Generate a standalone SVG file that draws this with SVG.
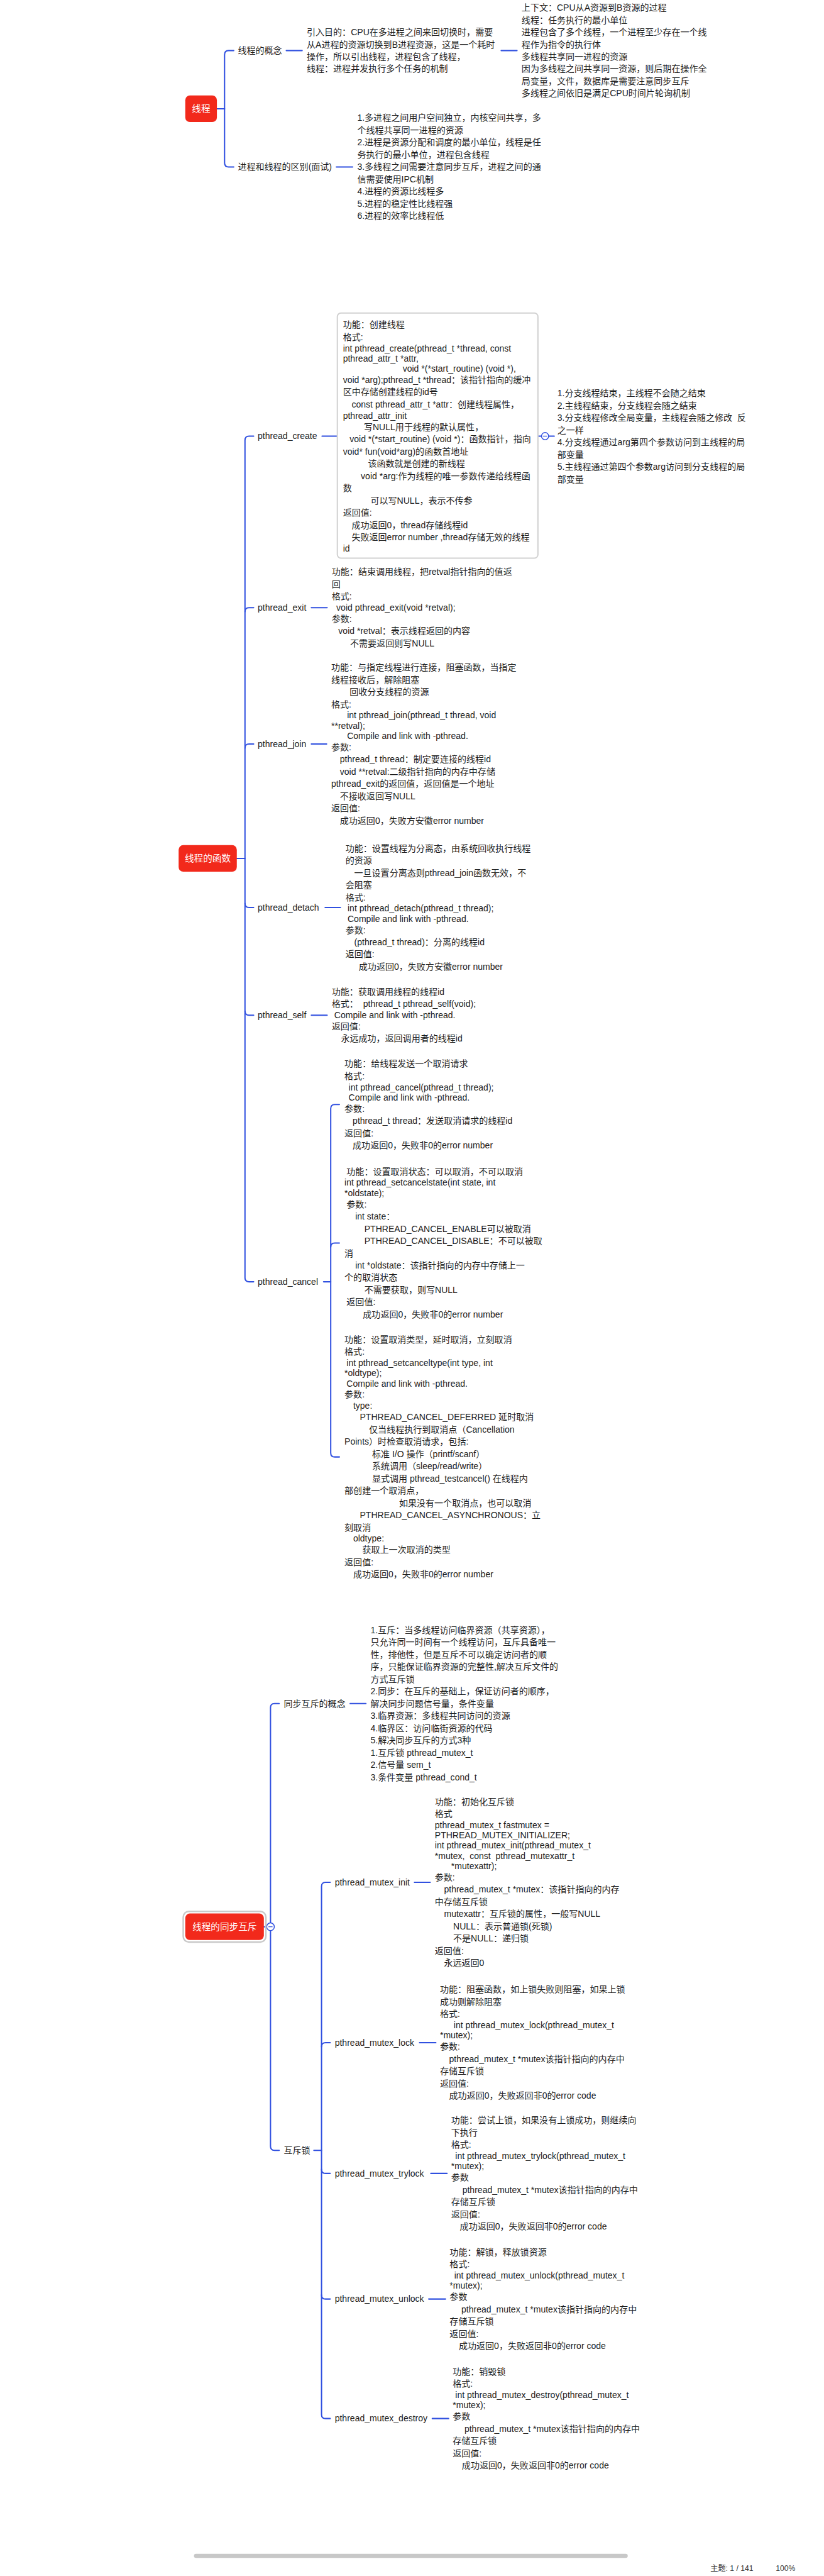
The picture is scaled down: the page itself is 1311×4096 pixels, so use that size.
<svg xmlns="http://www.w3.org/2000/svg" width="1311" height="4096" viewBox="0 0 1311 4096">
<style>
.t{font-family:"Liberation Sans","Noto Sans CJK SC",sans-serif;font-size:17.3px;fill:#1c1c1c}
.l{font-family:"Liberation Sans","Noto Sans CJK SC",sans-serif;font-size:17.3px;fill:#1c1c1c}
.n{font-family:"Liberation Sans","Noto Sans CJK SC",sans-serif;font-size:18px;fill:#ffffff;text-anchor:middle;dominant-baseline:central}
.red{fill:#f2291b}
.c{fill:none;stroke:#3050e0;stroke-width:2.5;stroke-linecap:round}
.box{fill:#ffffff;stroke:#d2d2d2;stroke-width:2.5}
.ui{font-family:"Liberation Sans","Noto Sans CJK SC",sans-serif;font-size:15px;fill:#333}
</style>
<rect width="1311" height="4096" fill="#ffffff"/>
<g transform="scale(0.812)">
<g id="connectors">
<path class="c" d="M425,213 H440"/>
<path class="c" d="M458,99 H448 Q440,99 440,107 V319 Q440,327 448,327 H458"/>
<path class="c" d="M561,99 H592"/>
<path class="c" d="M982,99 H1013"/>
<path class="c" d="M659,327 H691"/>
<path class="c" d="M464,1681 H480"/>
<path class="c" d="M497,854 H488 Q480,854 480,862 V2502 Q480,2510 488,2510 H497"/>
<path class="c" d="M480,1198 Q480,1190 488,1190 H497"/>
<path class="c" d="M480,1465 Q480,1457 488,1457 H497"/>
<path class="c" d="M480,1769 Q480,1777 488,1777 H497"/>
<path class="c" d="M480,1980 Q480,1988 488,1988 H497"/>
<path class="c" d="M631,854 H661"/>
<path class="c" d="M1054,854 H1061 M1075,854 H1086"/>
<path class="c" d="M610,1190 H641"/>
<path class="c" d="M610,1457 H640"/>
<path class="c" d="M637,1777 H667"/>
<path class="c" d="M610,1988 H641"/>
<path class="c" d="M634,2510 H648"/>
<path class="c" d="M665,2163 H656 Q648,2163 648,2171 V2845 Q648,2853 656,2853 H665"/>
<path class="c" d="M648,2442 Q648,2434 656,2434 H665"/>
<path class="c" d="M517,3773 H530"/>
<path class="c" d="M547,3336 H538 Q530,3336 530,3344 V4203 Q530,4211 538,4211 H547"/>
<path class="c" d="M686,3336 H717"/>
<path class="c" d="M615,4211 H630"/>
<path class="c" d="M647,3686 H638 Q630,3686 630,3694 V4728 Q630,4736 638,4736 H647"/>
<path class="c" d="M630,4008 Q630,4000 638,4000 H647"/>
<path class="c" d="M630,4248 Q630,4256 638,4256 H647"/>
<path class="c" d="M630,4494 Q630,4502 638,4502 H647"/>
<path class="c" d="M812,3686 H843"/>
<path class="c" d="M822,4000 H854"/>
<path class="c" d="M844,4256 H876"/>
<path class="c" d="M840,4502 H873"/>
<path class="c" d="M847,4736 H879"/>
<circle cx="1068" cy="854" r="7" fill="#fff" stroke="#3050e0" stroke-width="1.8"/>
<path d="M1064,854 H1072" stroke="#3050e0" stroke-width="1.5"/>
<circle cx="530" cy="3773" r="7.5" fill="#fff" stroke="#3050e0" stroke-width="1.8"/>
<path d="M526,3773 H534" stroke="#3050e0" stroke-width="1.5"/>
</g>

<g id="node-thread">
<rect class="red" x="363" y="187" width="62" height="52" rx="9"/>
<text class="n" x="394" y="213">线程</text>
</g>
<g id="node-concept"><text class="l" x="466" y="105">线程的概念</text></g>
<g id="node-concept-text">
<text class="t"><tspan x="601" y="69">引入目的：CPU在多进程之间来回切换时，需要</tspan><tspan x="601" dy="24">从A进程的资源切换到B进程资源，这是一个耗时</tspan><tspan x="601" dy="24">操作，所以引出线程，进程包含了线程，</tspan><tspan x="601" dy="24">线程：进程并发执行多个任务的机制</tspan></text>
</g>
<g id="node-concept-detail">
<text class="t"><tspan x="1022" y="21">上下文：CPU从A资源到B资源的过程</tspan><tspan x="1022" dy="24">线程：任务执行的最小单位</tspan><tspan x="1022" dy="24">进程包含了多个线程，一个进程至少存在一个线</tspan><tspan x="1022" dy="24">程作为指令的执行体</tspan><tspan x="1022" dy="24">多线程共享同一进程的资源</tspan><tspan x="1022" dy="24">因为多线程之间共享同一资源，则后期在操作全</tspan><tspan x="1022" dy="24">局变量，文件，数据库是需要注意同步互斥</tspan><tspan x="1022" dy="24">多线程之间依旧是满足CPU时间片轮询机制</tspan></text>
</g>
<g id="node-diff"><text class="l" x="466" y="333">进程和线程的区别(面试)</text></g>
<g id="node-diff-text">
<text class="t"><tspan x="700" y="237">1.多进程之间用户空间独立，内核空间共享，多</tspan><tspan x="700" dy="24">个线程共享同一进程的资源</tspan><tspan x="700" dy="24">2.进程是资源分配和调度的最小单位，线程是任</tspan><tspan x="700" dy="24">务执行的最小单位，进程包含线程</tspan><tspan x="700" dy="24">3.多线程之间需要注意同步互斥，进程之间的通</tspan><tspan x="700" dy="24">信需要使用IPC机制</tspan><tspan x="700" dy="24">4.进程的资源比线程多</tspan><tspan x="700" dy="24">5.进程的稳定性比线程强</tspan><tspan x="700" dy="24">6.进程的效率比线程低</tspan></text>
</g>

<g id="node-functions">
<rect class="red" x="350" y="1655" width="114" height="52" rx="9"/>
<text class="n" x="407" y="1681">线程的函数</text>
</g>
<g id="node-create"><text class="l" x="505" y="860">pthread_create</text></g>
<g id="node-create-text">
<rect class="box" x="661" y="613" width="393" height="480" rx="7"/>
<text class="t"><tspan x="672" y="642">功能：创建线程</tspan><tspan x="672" dy="24">格式:</tspan><tspan x="672" dy="22">int pthread_create(pthread_t *thread, const</tspan><tspan x="672" dy="20">pthread_attr_t *attr,</tspan><tspan x="789" dy="20">void *(*start_routine) (void *),</tspan><tspan x="672" dy="22">void *arg);pthread_t *thread：该指针指向的缓冲</tspan><tspan x="672" dy="24">区中存储创建线程的id号</tspan><tspan x="689" dy="24">const pthread_attr_t *attr：创建线程属性，</tspan><tspan x="672" dy="22">pthread_attr_init</tspan><tspan x="713" dy="22">写NULL用于线程的默认属性，</tspan><tspan x="685" dy="24">void *(*start_routine) (void *)：函数指针，指向</tspan><tspan x="672" dy="24">void* fun(void*arg)的函数首地址</tspan><tspan x="721" dy="24">该函数就是创建的新线程</tspan><tspan x="707" dy="24">void *arg:作为线程的唯一参数传递给线程函</tspan><tspan x="672" dy="24">数</tspan><tspan x="726" dy="24">可以写NULL，表示不传参</tspan><tspan x="672" dy="24">返回值:</tspan><tspan x="689" dy="24">成功返回0，thread存储线程id</tspan><tspan x="689" dy="24">失败返回error number ,thread存储无效的线程</tspan><tspan x="672" dy="22">id</tspan></text>
</g>
<g id="node-create-notes">
<text class="t"><tspan x="1092" y="776">1.分支线程结束，主线程不会随之结束</tspan><tspan x="1092" dy="24">2.主线程结束，分支线程会随之结束</tspan><tspan x="1092" dy="24">3.分支线程修改全局变量，主线程会随之修改&#160;&#160;反</tspan><tspan x="1092" dy="24">之一样</tspan><tspan x="1092" dy="24">4.分支线程通过arg第四个参数访问到主线程的局</tspan><tspan x="1092" dy="24">部变量</tspan><tspan x="1092" dy="24">5.主线程通过第四个参数arg访问到分支线程的局</tspan><tspan x="1092" dy="24">部变量</tspan></text>
</g>
<g id="node-exit"><text class="l" x="505" y="1196">pthread_exit</text></g>
<g id="node-exit-text">
<text class="t"><tspan x="650" y="1126">功能：结束调用线程，把retval指针指向的值返</tspan><tspan x="650" dy="24">回</tspan><tspan x="650" dy="24">格式:</tspan><tspan x="659" dy="22">void pthread_exit(void *retval);</tspan><tspan x="650" dy="22">参数:</tspan><tspan x="663" dy="24">void *retval：表示线程返回的内容</tspan><tspan x="686" dy="24">不需要返回则写NULL</tspan></text>
</g>
<g id="node-join"><text class="l" x="505" y="1463">pthread_join</text></g>
<g id="node-join-text">
<text class="t"><tspan x="649" y="1313">功能：与指定线程进行连接，阻塞函数，当指定</tspan><tspan x="649" dy="24">线程接收后，解除阻塞</tspan><tspan x="685" dy="24">回收分支线程的资源</tspan><tspan x="649" dy="24">格式:</tspan><tspan x="680" dy="22">int pthread_join(pthread_t thread, void</tspan><tspan x="649" dy="20">**retval);</tspan><tspan x="680" dy="20">Compile and link with -pthread.</tspan><tspan x="649" dy="22">参数:</tspan><tspan x="666" dy="24">pthread_t thread：制定要连接的线程id</tspan><tspan x="666" dy="24">void **retval:二级指针指向的内存中存储</tspan><tspan x="649" dy="24">pthread_exit的返回值，返回值是一个地址</tspan><tspan x="666" dy="24">不接收返回写NULL</tspan><tspan x="649" dy="24">返回值:</tspan><tspan x="666" dy="24">成功返回0，失败方安徽error number</tspan></text>
</g>
<g id="node-detach"><text class="l" x="505" y="1783">pthread_detach</text></g>
<g id="node-detach-text">
<text class="t"><tspan x="677" y="1667">功能：设置线程为分离态，由系统回收执行线程</tspan><tspan x="677" dy="24">的资源</tspan><tspan x="694" dy="24">一旦设置分离态则pthread_join函数无效，不</tspan><tspan x="677" dy="24">会阻塞</tspan><tspan x="677" dy="24">格式:</tspan><tspan x="681" dy="22">int pthread_detach(pthread_t thread);</tspan><tspan x="681" dy="20">Compile and link with -pthread.</tspan><tspan x="677" dy="22">参数:</tspan><tspan x="694" dy="24">(pthread_t thread)：分离的线程id</tspan><tspan x="677" dy="24">返回值:</tspan><tspan x="703" dy="24">成功返回0，失败方安徽error number</tspan></text>
</g>
<g id="node-self"><text class="l" x="505" y="1994">pthread_self</text></g>
<g id="node-self-text">
<text class="t"><tspan x="650" y="1948">功能：获取调用线程的线程id</tspan><tspan x="650" dy="24">格式：&#160;&#160;pthread_t pthread_self(void);</tspan><tspan x="655" dy="22">Compile and link with -pthread.</tspan><tspan x="650" dy="22">返回值:</tspan><tspan x="668" dy="24">永远成功，返回调用者的线程id</tspan></text>
</g>
<g id="node-cancel"><text class="l" x="505" y="2516">pthread_cancel</text></g>
<g id="node-cancel-text1">
<text class="t"><tspan x="675" y="2089">功能：给线程发送一个取消请求</tspan><tspan x="675" dy="24">格式:</tspan><tspan x="683" dy="22">int pthread_cancel(pthread_t thread);</tspan><tspan x="683" dy="20">Compile and link with -pthread.</tspan><tspan x="675" dy="22">参数:</tspan><tspan x="691" dy="24">pthread_t thread：发送取消请求的线程id</tspan><tspan x="675" dy="24">返回值:</tspan><tspan x="691" dy="24">成功返回0，失败非0的error number</tspan></text>
</g>
<g id="node-cancel-text2">
<text class="t"><tspan x="679" y="2300">功能：设置取消状态：可以取消，不可以取消</tspan><tspan x="675" dy="22">int pthread_setcancelstate(int state, int</tspan><tspan x="675" dy="20">*oldstate);</tspan><tspan x="679" dy="22">参数:</tspan><tspan x="696" dy="24">int state：</tspan><tspan x="714" dy="24">PTHREAD_CANCEL_ENABLE可以被取消</tspan><tspan x="714" dy="24">PTHREAD_CANCEL_DISABLE：不可以被取</tspan><tspan x="675" dy="24">消</tspan><tspan x="696" dy="24">int *oldstate：该指针指向的内存中存储上一</tspan><tspan x="675" dy="24">个的取消状态</tspan><tspan x="714" dy="24">不需要获取，则写NULL</tspan><tspan x="679" dy="24">返回值:</tspan><tspan x="711" dy="24">成功返回0，失败非0的error number</tspan></text>
</g>
<g id="node-cancel-text3">
<text class="t"><tspan x="675" y="2629">功能：设置取消类型，延时取消，立刻取消</tspan><tspan x="675" dy="24">格式:</tspan><tspan x="679" dy="22">int pthread_setcanceltype(int type, int</tspan><tspan x="675" dy="20">*oldtype);</tspan><tspan x="679" dy="20">Compile and link with -pthread.</tspan><tspan x="675" dy="22">参数:</tspan><tspan x="692" dy="22">type:</tspan><tspan x="705" dy="22">PTHREAD_CANCEL_DEFERRED 延时取消</tspan><tspan x="723" dy="24">仅当线程执行到取消点（Cancellation</tspan><tspan x="675" dy="24">Points）时检查取消请求，包括:</tspan><tspan x="729" dy="24">标准 I/O 操作（printf/scanf）</tspan><tspan x="729" dy="24">系统调用（sleep/read/write）</tspan><tspan x="729" dy="24">显式调用 pthread_testcancel() 在线程内</tspan><tspan x="675" dy="24">部创建一个取消点，</tspan><tspan x="782" dy="24">如果没有一个取消点，也可以取消</tspan><tspan x="705" dy="24">PTHREAD_CANCEL_ASYNCHRONOUS：立</tspan><tspan x="675" dy="24">刻取消</tspan><tspan x="692" dy="22">oldtype:</tspan><tspan x="710" dy="22">获取上一次取消的类型</tspan><tspan x="675" dy="24">返回值:</tspan><tspan x="692" dy="24">成功返回0，失败非0的error number</tspan></text>
</g>

<g id="node-sync">
<rect x="359" y="3743" width="162" height="60" rx="11" fill="none" stroke="#c9c9c9" stroke-width="3"/>
<rect class="red" x="363" y="3747" width="154" height="52" rx="9"/>
<text class="n" x="440" y="3773">线程的同步互斥</text>
</g>
<g id="node-sync-concept"><text class="l" x="556" y="3342">同步互斥的概念</text></g>
<g id="node-sync-concept-text">
<text class="t"><tspan x="726" y="3198">1.互斥：当多线程访问临界资源（共享资源），</tspan><tspan x="726" dy="24">只允许同一时间有一个线程访问，互斥具备唯一</tspan><tspan x="726" dy="24">性，排他性，但是互斥不可以确定访问者的顺</tspan><tspan x="726" dy="24">序，只能保证临界资源的完整性,解决互斥文件的</tspan><tspan x="726" dy="24">方式互斥锁</tspan><tspan x="726" dy="24">2.同步：在互斥的基础上，保证访问者的顺序，</tspan><tspan x="726" dy="24">解决同步问题信号量，条件变量</tspan><tspan x="726" dy="24">3.临界资源：多线程共同访问的资源</tspan><tspan x="726" dy="24">4.临界区：访问临街资源的代码</tspan><tspan x="726" dy="24">5.解决同步互斥的方式3种</tspan><tspan x="726" dy="24">1.互斥锁 pthread_mutex_t</tspan><tspan x="726" dy="24">2.信号量 sem_t</tspan><tspan x="726" dy="24">3.条件变量 pthread_cond_t</tspan></text>
</g>
<g id="node-mutex"><text class="l" x="556" y="4217">互斥锁</text></g>
<g id="node-mutex-init"><text class="l" x="656" y="3692">pthread_mutex_init</text></g>
<g id="node-mutex-init-text">
<text class="t"><tspan x="852" y="3534">功能：初始化互斥锁</tspan><tspan x="852" dy="24">格式</tspan><tspan x="852" dy="22">pthread_mutex_t fastmutex =</tspan><tspan x="852" dy="20">PTHREAD_MUTEX_INITIALIZER;</tspan><tspan x="852" dy="20">int pthread_mutex_init(pthread_mutex_t</tspan><tspan x="852" dy="20">*mutex,&#160;&#160;const&#160;&#160;pthread_mutexattr_t</tspan><tspan x="884" dy="20">*mutexattr);</tspan><tspan x="852" dy="22">参数:</tspan><tspan x="870" dy="24">pthread_mutex_t *mutex：该指针指向的内存</tspan><tspan x="852" dy="24">中存储互斥锁</tspan><tspan x="870" dy="24">mutexattr：互斥锁的属性，一般写NULL</tspan><tspan x="888" dy="24">NULL：表示普通锁(死锁)</tspan><tspan x="888" dy="24">不是NULL：递归锁</tspan><tspan x="852" dy="24">返回值:</tspan><tspan x="870" dy="24">永远返回0</tspan></text>
</g>
<g id="node-mutex-lock"><text class="l" x="656" y="4006">pthread_mutex_lock</text></g>
<g id="node-mutex-lock-text">
<text class="t"><tspan x="862" y="3902">功能：阻塞函数，如上锁失败则阻塞，如果上锁</tspan><tspan x="862" dy="24">成功则解除阻塞</tspan><tspan x="862" dy="24">格式:</tspan><tspan x="889" dy="22">int pthread_mutex_lock(pthread_mutex_t</tspan><tspan x="862" dy="20">*mutex);</tspan><tspan x="862" dy="22">参数:</tspan><tspan x="880" dy="24">pthread_mutex_t *mutex该指针指向的内存中</tspan><tspan x="862" dy="24">存储互斥锁</tspan><tspan x="862" dy="24">返回值:</tspan><tspan x="880" dy="24">成功返回0，失败返回非0的error code</tspan></text>
</g>
<g id="node-mutex-trylock"><text class="l" x="656" y="4262">pthread_mutex_trylock</text></g>
<g id="node-mutex-trylock-text">
<text class="t"><tspan x="884" y="4158">功能：尝试上锁，如果没有上锁成功，则继续向</tspan><tspan x="884" dy="24">下执行</tspan><tspan x="884" dy="24">格式:</tspan><tspan x="892" dy="22">int pthread_mutex_trylock(pthread_mutex_t</tspan><tspan x="884" dy="20">*mutex);</tspan><tspan x="884" dy="22">参数</tspan><tspan x="906" dy="24">pthread_mutex_t *mutex该指针指向的内存中</tspan><tspan x="884" dy="24">存储互斥锁</tspan><tspan x="884" dy="24">返回值:</tspan><tspan x="901" dy="24">成功返回0，失败返回非0的error code</tspan></text>
</g>
<g id="node-mutex-unlock"><text class="l" x="656" y="4508">pthread_mutex_unlock</text></g>
<g id="node-mutex-unlock-text">
<text class="t"><tspan x="881" y="4416">功能：解锁，释放锁资源</tspan><tspan x="881" dy="24">格式:</tspan><tspan x="890" dy="22">int pthread_mutex_unlock(pthread_mutex_t</tspan><tspan x="881" dy="20">*mutex);</tspan><tspan x="881" dy="22">参数</tspan><tspan x="904" dy="24">pthread_mutex_t *mutex该指针指向的内存中</tspan><tspan x="881" dy="24">存储互斥锁</tspan><tspan x="881" dy="24">返回值:</tspan><tspan x="899" dy="24">成功返回0，失败返回非0的error code</tspan></text>
</g>
<g id="node-mutex-destroy"><text class="l" x="656" y="4742">pthread_mutex_destroy</text></g>
<g id="node-mutex-destroy-text">
<text class="t"><tspan x="887" y="4650">功能：销毁锁</tspan><tspan x="887" dy="24">格式:</tspan><tspan x="892" dy="22">int pthread_mutex_destroy(pthread_mutex_t</tspan><tspan x="887" dy="20">*mutex);</tspan><tspan x="887" dy="22">参数</tspan><tspan x="910" dy="24">pthread_mutex_t *mutex该指针指向的内存中</tspan><tspan x="887" dy="24">存储互斥锁</tspan><tspan x="887" dy="24">返回值:</tspan><tspan x="905" dy="24">成功返回0，失败返回非0的error code</tspan></text>
</g>

<g id="statusbar">
<rect x="380" y="5001" width="850" height="8" rx="4" fill="#c8c8c8"/>
<text class="ui" x="1392" y="5034">主题: 1 / 141</text>
<text class="ui" x="1520" y="5034">100%</text>
</g>
</g>
</svg>
